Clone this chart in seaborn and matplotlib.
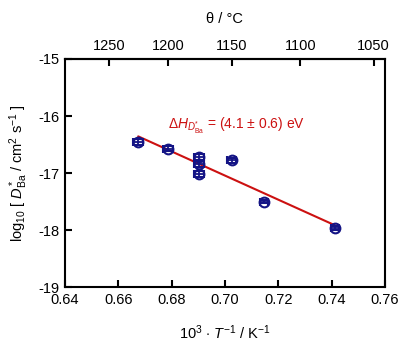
import numpy as np
import matplotlib
matplotlib.use('Agg')
import matplotlib.pyplot as plt
import seaborn as sns
import pandas as pd

# data
inv_T = [0.6675, 0.6787, 0.6904, 0.6904, 0.6904, 0.7025, 0.7146, 0.7414]
log_D = [-16.45, -16.57, -16.72, -16.84, -17.02, -16.78, -17.50, -17.96]
inv_T_err = [0.0018, 0.0018, 0.0018, 0.0018, 0.0018, 0.0018, 0.0015, 0.0015]
log_D_err = [0.05, 0.05, 0.05, 0.05, 0.05, 0.05, 0.03, 0.03]
celsius_ticks = [1250, 1200, 1150, 1100, 1050]

sns.set_style('ticks')
plt.rcParams['font.family'] = ['Liberation Sans', 'DejaVu Sans']
plt.rcParams['mathtext.fontset'] = 'custom'
plt.rcParams['mathtext.rm'] = 'Liberation Sans'
plt.rcParams['mathtext.it'] = 'Liberation Sans:italic'
plt.rcParams['mathtext.bf'] = 'Liberation Sans:bold'
for k in ['text.color', 'axes.labelcolor', 'xtick.color', 'ytick.color', 'axes.edgecolor']:
    plt.rcParams[k] = 'black'

df = pd.DataFrame({'x': inv_T, 'y': log_D})

fig = plt.figure(figsize=(4.03, 3.51), dpi=100)
ax = fig.add_axes([0.161, 0.182, 0.794, 0.650])

navy = '#141485'
red = '#cc1111'
fs = 10.5

# fitted line
sns.regplot(data=df, x='x', y='y', scatter=False, ci=None, ax=ax,
            line_kws={'color': red, 'lw': 1.5})

# data points with error bars
ax.errorbar(inv_T, log_D, xerr=inv_T_err, yerr=log_D_err, fmt='o', ms=7,
            mfc='none', mec=navy, mew=1.5, ecolor=navy, elinewidth=1.3,
            capsize=3, capthick=1.3, zorder=3)

ax.set_xlim(0.64, 0.76)
ax.set_ylim(-19, -15)
ax.set_xticks([0.64, 0.66, 0.68, 0.70, 0.72, 0.74, 0.76])
ax.set_xticklabels(['0.64', '0.66', '0.68', '0.70', '0.72', '0.74', '0.76'])
ax.set_yticks([-19, -18, -17, -16, -15])
ax.set_yticklabels(['-19', '-18', '-17', '-16', '-15'])
ax.tick_params(direction='in', length=5, width=1.5, labelsize=fs, pad=4)

for s in ax.spines.values():
    s.set_linewidth(1.5)
    s.set_visible(True)

ax.set_xlabel(r'10$^3$ $\cdot$ $T^{-1}$ / K$^{-1}$', fontsize=fs, labelpad=12)
ax.set_ylabel(r'log$_{10}$ [ $D^*_{\mathrm{Ba}}$ / cm$^2$ s$^{-1}$ ]',
              fontsize=fs, labelpad=6)

# top axis in degrees Celsius
sec = ax.secondary_xaxis('top', functions=(lambda x: 1000.0 / x - 273.15,
                                           lambda c: 1000.0 / (c + 273.15)))
sec.set_xticks(celsius_ticks)
sec.tick_params(direction='in', length=5, width=1.5, labelsize=fs, pad=4)
sec.set_xlabel('θ / °C', fontsize=fs, labelpad=12)
sec.spines['top'].set_linewidth(1.5)

ax.text(0.6785, -16.18, r'Δ$H_{D^{*}_{\mathrm{Ba}}}$ = (4.1 ± 0.6) eV',
        color=red, fontsize=10, ha='left', va='center')

fig.savefig('out.png', dpi=100)
